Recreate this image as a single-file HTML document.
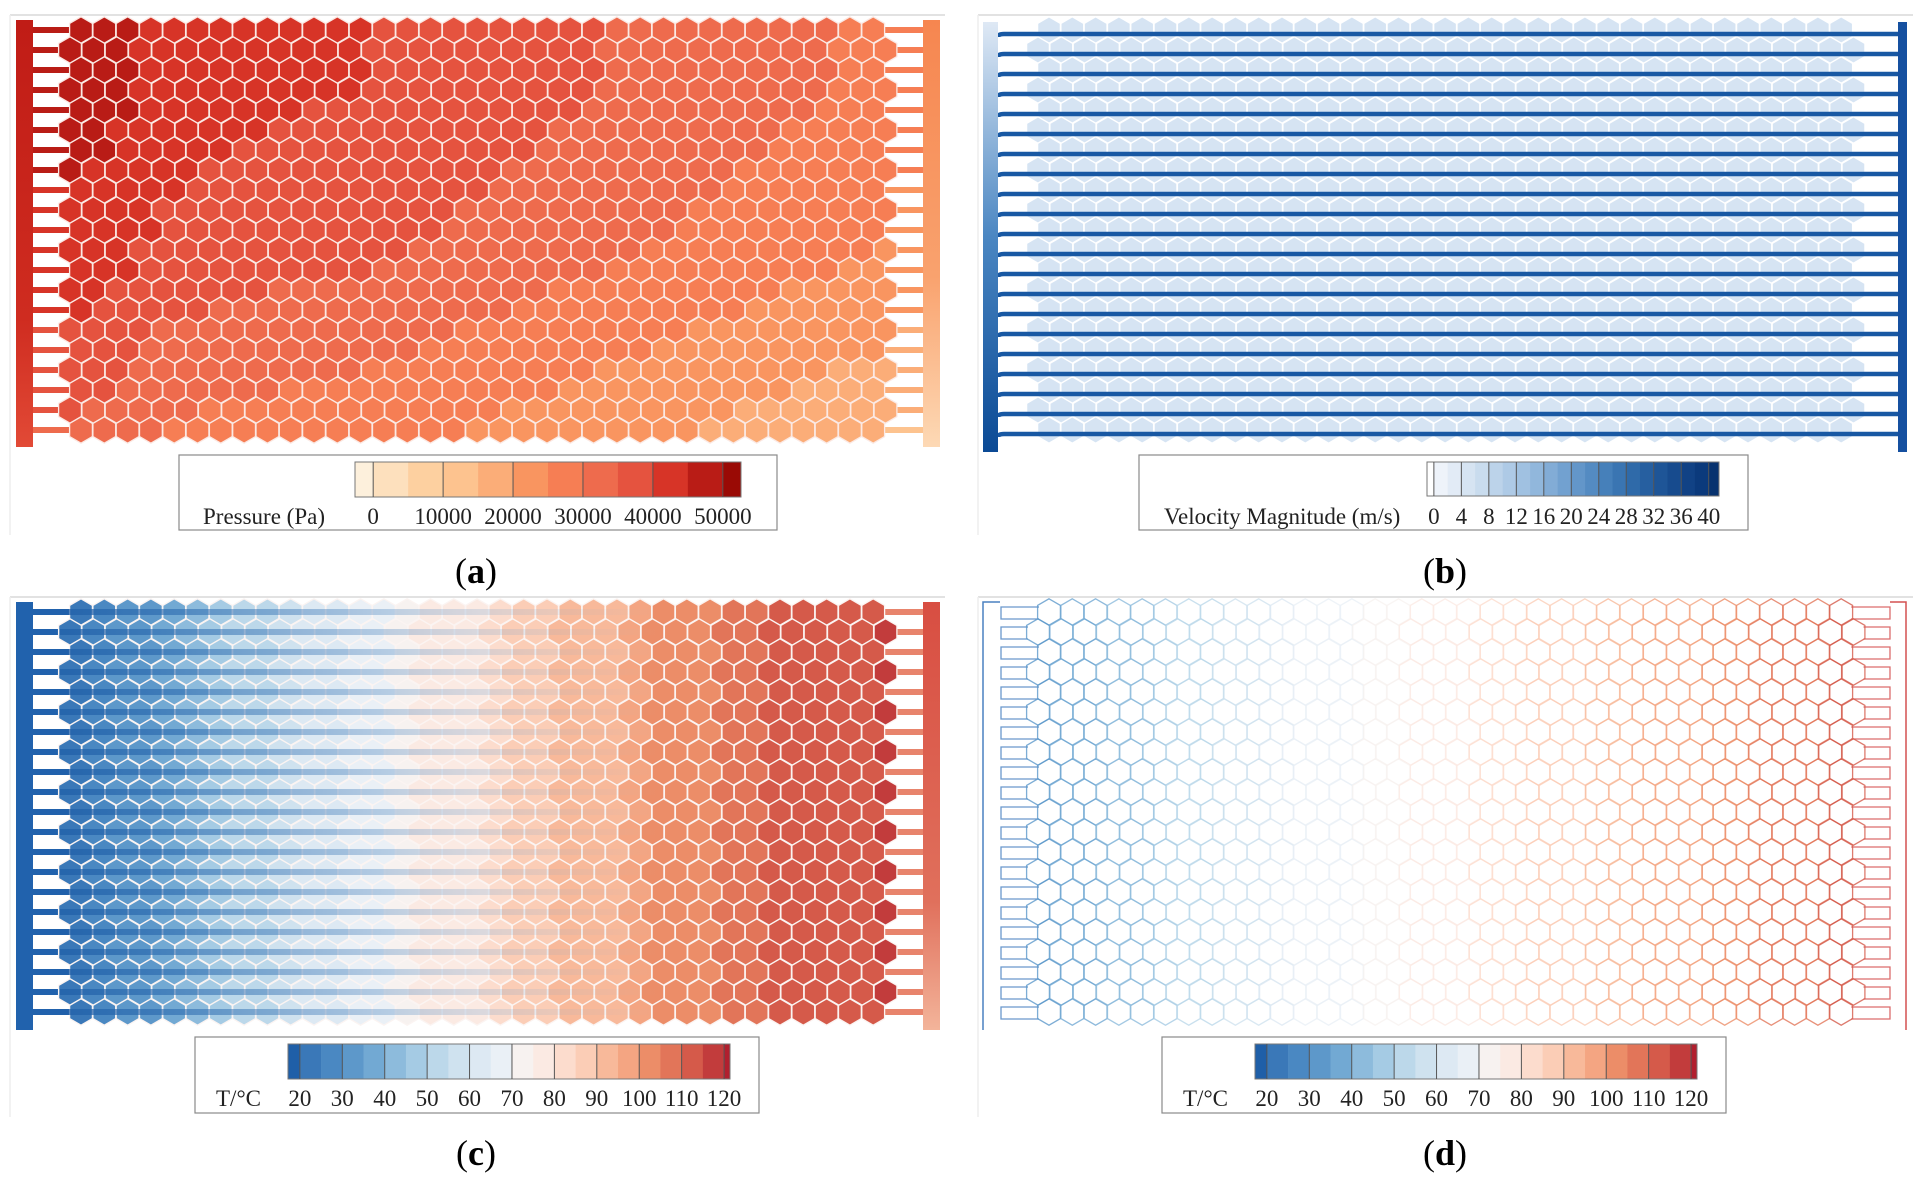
<!DOCTYPE html>
<html><head><meta charset="utf-8"><style>
html,body{margin:0;padding:0;background:#fff;}
svg{display:block;font-family:"Liberation Serif",serif;}
</style></head><body>
<svg id="fig" width="1925" height="1188" viewBox="0 0 1925 1188" xmlns="http://www.w3.org/2000/svg">
<defs>
<linearGradient id="gInB" x1="0" y1="0" x2="0" y2="1"><stop offset="0" stop-color="#dfe9f5"/><stop offset="0.5" stop-color="#4a86c2"/><stop offset="1" stop-color="#0b4a95"/></linearGradient>
<linearGradient id="gOutA" x1="0" y1="0" x2="0" y2="1"><stop offset="0" stop-color="#f68650"/><stop offset="0.6" stop-color="#f9a26e"/><stop offset="1" stop-color="#fdd9b5"/></linearGradient>
<linearGradient id="gInA" x1="0" y1="0" x2="0" y2="1"><stop offset="0" stop-color="#c01c16"/><stop offset="0.7" stop-color="#cf2c20"/><stop offset="1" stop-color="#e24a36"/></linearGradient>
<linearGradient id="gOutC" x1="0" y1="0" x2="0" y2="1"><stop offset="0" stop-color="#d84e42"/><stop offset="0.7" stop-color="#e0705c"/><stop offset="1" stop-color="#f3b49a"/></linearGradient>
<linearGradient id="gBand" x1="0" y1="0" x2="1" y2="0"><stop offset="0" stop-color="#1f5fa8" stop-opacity="0.75"/><stop offset="0.5" stop-color="#3a78b8" stop-opacity="0.35"/><stop offset="1" stop-color="#8dbbdc" stop-opacity="0"/></linearGradient>
</defs>
<g id="frames">
<line x1="10" y1="15" x2="945" y2="15" stroke="#e2e2e2" stroke-width="2"/>
<line x1="10" y1="15" x2="10" y2="535" stroke="#eeeeee" stroke-width="1.5"/>
<line x1="978" y1="15" x2="1913" y2="15" stroke="#e2e2e2" stroke-width="2"/>
<line x1="978" y1="15" x2="978" y2="535" stroke="#eeeeee" stroke-width="1.5"/>
<line x1="10" y1="597" x2="945" y2="597" stroke="#e2e2e2" stroke-width="2"/>
<line x1="10" y1="597" x2="10" y2="1117" stroke="#eeeeee" stroke-width="1.5"/>
<line x1="978" y1="597" x2="1913" y2="597" stroke="#e2e2e2" stroke-width="2"/>
<line x1="978" y1="597" x2="978" y2="1117" stroke="#eeeeee" stroke-width="1.5"/>
</g>
<g id="pA"></g>
<g id="pB"></g>
<g id="pC"></g>
<g id="pD"></g>
<g id="legends"></g>
<text x="476" y="583" text-anchor="middle" font-size="36">(<tspan font-weight="bold">a</tspan>)</text>
<text x="1445" y="583" text-anchor="middle" font-size="36">(<tspan font-weight="bold">b</tspan>)</text>
<text x="476" y="1165" text-anchor="middle" font-size="36">(<tspan font-weight="bold">c</tspan>)</text>
<text x="1445" y="1165" text-anchor="middle" font-size="36">(<tspan font-weight="bold">d</tspan>)</text>
</svg>
<script>
// ---- data ----
const pressureTicks = [0, 10000, 20000, 30000, 40000, 50000];
const pressureLevels = [-2600, 0, 5000, 10000, 15000, 20000, 25000, 30000, 35000, 40000, 45000, 50000, 52600];
const pressureColors = ["#fdf0dc","#fde0bd","#fdd0a0","#fdc38f","#fbad78","#f99560","#f67e54","#ee6b4d","#e5533f","#d73427","#b91c16","#9a0a05"];
const velocityTicks = [0, 4, 8, 12, 16, 20, 24, 28, 32, 36, 40];
const velocityLevels = [-1, 0, 2, 4, 6, 8, 10, 12, 14, 16, 18, 20, 22, 24, 26, 28, 30, 32, 34, 36, 38, 40, 41.5];
const velocityColors = ["#ffffff","#eef3fa","#e2ebf6","#d6e4f2","#c9dcee","#bcd3ea","#aecae6","#a0c1e1","#91b7dc","#82acd6","#72a1d0","#6396c9","#548bc2","#4680ba","#3a75b2","#2f6aa9","#265fa0","#1e5597","#174b8e","#114285","#0b3a7c","#07326f"];
const tempTicks = [20, 30, 40, 50, 60, 70, 80, 90, 100, 110, 120];
const tempLevels = [17.2, 20, 25, 30, 35, 40, 45, 50, 55, 60, 65, 70, 75, 80, 85, 90, 95, 100, 105, 110, 115, 120, 121.4];
const tempColors = ["#1f5fa8","#3a78b8","#4a88c2","#5d98ca","#72a9d3","#8dbbdc","#a5cbe4","#bcd8ea","#cfe2ef","#dde9f3","#eaf0f6","#f7f2f0","#fbeae3","#fcdccd","#fbcdb6","#f8b99a","#f4a582","#ec8d68","#e27559","#d55a4a","#c23c3c","#b11f2e"];
const pressureCol = [47000,46500,45500,43500,42500,42000,41500,41000,41000,40500,40000,40000,40000,39500,39000,38500,38000,37500,37000,36500,36000,35500,35000,34500,34000,33500,33000,32500,32000,31500,31000,30500,30000,29500,29000,28500];
const pressureRowDrop = [0,0,0,0,500,1000,1500,2000,2500,3000,3500,4000,5000,6000,7000,8000,9000,10000,11000,12000,13000];
const tempCol = [24,27,30,34,38,42,46,50,54,57,60,63,66,69,72,75,77,79,82,85,88,90,92,94,97,100,102,104,106,108,110,111,112,113,114,115];
const tempWallCol = [34,36,38,41,44,47,50,53,56,59,62,65,67,69,71,73,75,77,79,81,83,85,87,89,91,93,95,97,99,101,103,105,107,109,111,113];

// ---- helpers ----
const NS = "http://www.w3.org/2000/svg";
function mk(tag, attrs, parent){ const e=document.createElementNS(NS,tag); for(const k in attrs) e.setAttribute(k,attrs[k]); parent.appendChild(e); return e; }
function colorFor(v, levels, colors){ for(let i=0;i<colors.length;i++){ if(v < levels[i+1]) return colors[i]; } return colors[colors.length-1]; }
const ROWS = 21, PX = 23.3, PY = 20, R = 13.2;
function hexX(ox, r, c){ return ox + (r%2===1 ? 70 : 81) + c*PX; }
function hexY(oy, r){ return oy + 30 + r*PY; }
function nCols(r){ return r%2===1 ? 36 : 35; }
function hexPts(cx, cy){ const a=0.866*R, b=R/2; return [[cx,cy-R],[cx+a,cy-b],[cx+a,cy+b],[cx,cy+R],[cx-a,cy+b],[cx-a,cy-b]].map(p=>p[0].toFixed(1)+","+p[1].toFixed(1)).join(" "); }

// ---- panel a ----
(function(){
  const g=document.getElementById('pA'), ox=0, oy=0;
  for(let r=0;r<ROWS;r++){
    const y=hexY(oy,r);
    let e=mk('rect',{x:33,y:y-3,width:40,height:6,fill:colorFor(pressureCol[0]-pressureRowDrop[r],pressureLevels,pressureColors)},g);
     
    const xr=hexX(ox,r,nCols(r)-1)+10;
    e=mk('rect',{x:xr,y:y-3,width:923-xr,height:6,fill:colorFor(pressureCol[35]-pressureRowDrop[r]-1500,pressureLevels,pressureColors)},g);
     
  }
  let e=mk('rect',{x:16,y:20,width:17,height:427,fill:'url(#gInA)'},g);
   
  e=mk('rect',{x:923,y:20,width:17,height:427,fill:'url(#gOutA)'},g);
   
  for(let r=0;r<ROWS;r++) for(let c=0;c<nCols(r);c++){
    const v=pressureCol[c]-pressureRowDrop[r];
    const h=mk('polygon',{points:hexPts(hexX(ox,r,c),hexY(oy,r)),fill:colorFor(v,pressureLevels,pressureColors),stroke:'#fbe9e4','stroke-width':1.3},g);
     
  }
})();

// ---- panel b ----
(function(){
  const g=document.getElementById('pB'), ox=968, oy=0;
  for(let r=0;r<ROWS;r++) for(let c=0;c<nCols(r);c++){
    const h=mk('polygon',{points:hexPts(hexX(ox,r,c),hexY(oy,r)),fill:'#cfe0f2',stroke:'#ffffff','stroke-width':1.3,opacity:0.85},g);
     
  }
  for(let r=0;r<ROWS;r++){
    const y=hexY(oy,r)+4;
    const l=mk('path',{d:`M998 ${y+3} Q998 ${y} 1004 ${y} L1898 ${y} Q1903 ${y} 1903 ${y+4}`,fill:'none',stroke:'#1858a3','stroke-width':4.5},g);
     
  }
  let e=mk('rect',{x:983,y:22,width:15,height:430,fill:'url(#gInB)'},g);
   
  e=mk('rect',{x:1898,y:22,width:9,height:430,fill:'#1550a0'},g);
   
})();

// ---- panel c ----
(function(){
  const g=document.getElementById('pC'), ox=0, oy=582;
  for(let r=0;r<ROWS;r++){
    const y=hexY(oy,r);
    let e=mk('rect',{x:33,y:y-3,width:40,height:6,fill:'#2162ad'},g);
     
    const xr=hexX(ox,r,nCols(r)-1)+10;
    e=mk('rect',{x:xr,y:y-3,width:923-xr,height:6,fill:'#e8846c'},g);
     
  }
  let e=mk('rect',{x:16,y:602,width:17,height:428,fill:'#2162ad'},g);
   
  e=mk('rect',{x:923,y:602,width:17,height:428,fill:'url(#gOutC)'},g);
   
  for(let r=0;r<ROWS;r++) for(let c=0;c<nCols(r);c++){
    const h=mk('polygon',{points:hexPts(hexX(ox,r,c),hexY(oy,r)),fill:colorFor(tempCol[c],tempLevels,tempColors),stroke:'#fbf4f2','stroke-width':1.3},g);
     
  }
  for(let r=0;r<ROWS;r++){
    const b=mk('rect',{x:60,y:hexY(oy,r)-3,width:600,height:6,fill:'url(#gBand)'},g);
     
  }
})();

// ---- panel d ----
(function(){
  const g=document.getElementById('pD'), ox=968, oy=582;
  let e=mk('path',{d:'M983 1030 L983 602 L1000 602',fill:'none',stroke:'#4a80c0','stroke-width':1.5},g);
   
  e=mk('path',{d:'M1906 1030 L1906 602 L1890 602',fill:'none',stroke:'#d45050','stroke-width':1.5},g);
   
  for(let r=0;r<ROWS;r++){
    const y=hexY(oy,r), xl=hexX(ox,r,0)-10, xr=hexX(ox,r,nCols(r)-1)+10;
    let s=mk('path',{d:`M${xl} ${y-5} L1001 ${y-5} L1001 ${y+7} L${xl} ${y+7}`,fill:'none',stroke:'#6a98cc','stroke-width':1.3},g);
     
    s=mk('path',{d:`M${xr} ${y-5} L1890 ${y-5} L1890 ${y+7} L${xr} ${y+7}`,fill:'none',stroke:'#dc6c6c','stroke-width':1.3},g);
     
  }
  for(let r=0;r<ROWS;r++) for(let c=0;c<nCols(r);c++){
    const h=mk('polygon',{points:hexPts(hexX(ox,r,c),hexY(oy,r)),fill:'none',stroke:colorFor(tempWallCol[c],tempLevels,tempColors),'stroke-width':1.3,'stroke-opacity':0.8},g);
     
  }
})();

// ---- legends ----
function legend(opt){
  const g=document.getElementById('legends');
  const lg=mk('g',{},g);
   
  mk('rect',{x:opt.bx,y:opt.by,width:opt.bw,height:opt.bh,fill:'#fff',stroke:'#8a8a8a','stroke-width':1.2},lg);
  const L=opt.levels, sx=v=>opt.x0+(v-L[0])/(L[L.length-1]-L[0])*(opt.x1-opt.x0);
  for(let i=0;i<opt.colors.length;i++){
    const cell=mk('rect',{x:sx(L[i]),y:opt.cy,width:sx(L[i+1])-sx(L[i])+0.3,height:opt.ch,fill:opt.colors[i]},lg);
     
  }
  mk('rect',{x:opt.x0,y:opt.cy,width:opt.x1-opt.x0,height:opt.ch,fill:'none',stroke:'#777','stroke-width':1},lg);
  opt.ticks.forEach(t=>{
    mk('line',{x1:sx(t),x2:sx(t),y1:opt.cy,y2:opt.cy+opt.ch,stroke:'#555','stroke-width':1},lg);
    const tx=mk('text',{x:sx(t),y:opt.ty,'text-anchor':'middle','font-size':opt.fs,fill:'#222'},lg);
    tx.textContent=t;
     
  });
  const ti=mk('text',{x:opt.tx,y:opt.ty,'font-size':opt.fs,fill:'#222'},lg);
  ti.textContent=opt.title;
   
}
legend({name:'legend-pressure',bx:179,by:455,bw:598,bh:75,x0:355,x1:741,cy:462,ch:35,levels:pressureLevels,colors:pressureColors,ticks:pressureTicks,ty:524,fs:23,tx:203,title:'Pressure (Pa)'});
legend({name:'legend-velocity',bx:1139,by:455,bw:609,bh:75,x0:1427,x1:1719,cy:462,ch:34,levels:velocityLevels,colors:velocityColors,ticks:velocityTicks,ty:524,fs:23,tx:1164,title:'Velocity Magnitude (m/s)'});
legend({name:'legend-temperature-c',bx:195,by:1037,bw:564,bh:76,x0:288,x1:730,cy:1044,ch:35,levels:tempLevels,colors:tempColors,ticks:tempTicks,ty:1106,fs:23,tx:216,title:'T/°C'});
legend({name:'legend-temperature-d',bx:1162,by:1037,bw:564,bh:76,x0:1255,x1:1697,cy:1044,ch:35,levels:tempLevels,colors:tempColors,ticks:tempTicks,ty:1106,fs:23,tx:1183,title:'T/°C'});
</script>
</body></html>
